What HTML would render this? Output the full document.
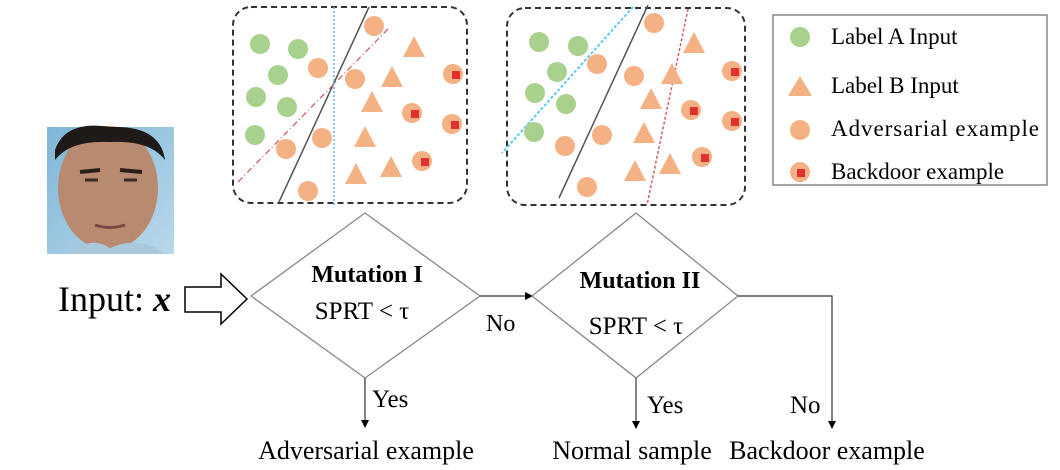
<!DOCTYPE html>
<html><head><meta charset="utf-8"><style>
body{margin:0;background:#fff;}
svg{display:block;font-family:"Liberation Serif",serif;}
</style></head><body>
<svg width="1060" height="470" viewBox="0 0 1060 470">
<defs>
<marker id="ah" markerWidth="8" markerHeight="8" refX="7" refY="4" orient="auto" markerUnits="userSpaceOnUse"><path d="M0,0 L8,4 L0,8 Z" fill="#000"/></marker>
<linearGradient id="bg" x1="0" y1="0" x2="1" y2="1"><stop offset="0" stop-color="#7fb6d8"/><stop offset="1" stop-color="#b9d8ea"/></linearGradient>
</defs>

<g>
<rect x="47" y="127" width="127" height="127" fill="url(#bg)"/>
<ellipse cx="108" cy="188" rx="50" ry="62" fill="#b88a70"/>
<path d="M55,150 Q65,120 110,127 Q160,125 165,160 Q150,140 110,142 Q70,140 55,160 Z" fill="#1e1a18"/>
<path d="M80,172 L100,170 M120,170 L142,172" stroke="#2a1e18" stroke-width="4"/>
<path d="M85,180 L98,180 M124,180 L137,180" stroke="#3a2a22" stroke-width="3"/>
<path d="M95,225 Q110,230 125,225" stroke="#7a4a40" stroke-width="3" fill="none"/>
<path d="M70,254 Q90,235 110,248 Q140,235 165,254 Z" fill="#a8c8dc"/>
</g>

<g id="panel1">
<rect x="233" y="7" width="234" height="196" rx="18" fill="none" stroke="#333" stroke-width="2" stroke-dasharray="6,4"/>
</g>
<g id="panel2">
<rect x="507" y="8" width="238" height="197" rx="18" fill="none" stroke="#333" stroke-width="2" stroke-dasharray="6,4"/>
</g>

<g font-size="23">
<rect x="773" y="15" width="274" height="170" fill="#fff" stroke="#666" stroke-width="1.2"/>
<g><circle cx="800" cy="37" r="10" fill="#a9d18e"/><text x="831" y="44">Label A Input</text></g>
<g><path d="M788,96 L800,76 L812,96 Z" fill="#f4b183"/><text x="831" y="93">Label B Input</text></g>
<g><circle cx="800" cy="130" r="10" fill="#f4b183"/><text x="831" y="136" textLength="208">Adversarial example</text></g>
<g><circle cx="800" cy="172" r="10" fill="#f4b183"/><rect x="797" y="169" width="8" height="8" fill="#e03030"/><text x="831" y="179">Backdoor example</text></g>
</g>

<g><text x="58" y="311" font-size="36">Input: <tspan font-weight="bold" font-style="italic">x</tspan></text></g>
<path d="M185,287 L221,287 L221,274 L247,299 L221,324 L221,312 L185,312 Z" fill="#fff" stroke="#000" stroke-width="1.5"/>

<g>
<path d="M251,296 L365,213 L480,296 L365,378 Z" fill="#fff" stroke="#888" stroke-width="1.3"/>
<text x="367" y="282" font-size="24" font-weight="bold" text-anchor="middle">Mutation I</text>
<text x="362" y="319" font-size="25" text-anchor="middle">SPRT &lt; τ</text>
</g>
<line x1="480" y1="296" x2="532" y2="296" stroke="#333" stroke-width="1.2" marker-end="url(#ah)"/>
<text x="486" y="331" font-size="24">No</text>
<line x1="365" y1="378" x2="365" y2="427" stroke="#333" stroke-width="1.2" marker-end="url(#ah)"/>
<text x="372" y="407" font-size="25">Yes</text>
<text x="366" y="459" font-size="26" text-anchor="middle">Adversarial example</text>

<g>
<path d="M532,296 L636,213 L738,296 L636,378 Z" fill="#fff" stroke="#888" stroke-width="1.3"/>
<text x="640" y="288" font-size="24" font-weight="bold" text-anchor="middle">Mutation II</text>
<text x="636" y="334" font-size="25" text-anchor="middle">SPRT &lt; τ</text>
</g>
<line x1="636" y1="378" x2="636" y2="428" stroke="#333" stroke-width="1.2" marker-end="url(#ah)"/>
<text x="647" y="413" font-size="25">Yes</text>
<path d="M738,296 L832,296 L832,428" fill="none" stroke="#333" stroke-width="1.2" marker-end="url(#ah)"/>
<text x="790" y="413" font-size="25">No</text>
<text x="632" y="459" font-size="26" text-anchor="middle">Normal sample</text>
<text x="827" y="459" font-size="26" text-anchor="middle">Backdoor example</text>
</svg>
<script>
const p1Green=[[260,44],[298,49],[278,75],[256,97],[287,107],[255,135]];
const p1Orange=[[374,26],[318,68],[355,79],[322,138],[286,149],[308,191]];
const p1Tri=[[414,47],[392,77],[372,102],[365,137],[356,174],[391,167]];
const p1Back=[[453,74],[412,113],[452,124],[422,161]];
const p2Green=[[539,42],[578,46],[557,72],[535,93],[566,104],[534,132]];
const p2Orange=[[654,23],[597,64],[634,76],[602,135],[565,146],[587,187]];
const p2Tri=[[694,43],[672,74],[651,99],[644,133],[635,171],[670,164]];
const p2Back=[[732,71],[691,110],[732,121],[702,157]];
const p1Lines=[[369,7,279,202,'#555','',1.5],[334,7,334,207,'#5bb8f0','2,2',1.5],[388,29,237,183,'#d06060','6,3,1,3',1.3]];
const p2Lines=[[648,5,559,198,'#555','',1.5],[633,7,502,153,'#5bc8f5','3,2',2],[688,9,647,205,'#d06060','3,2',1.5]];
const NS='http://www.w3.org/2000/svg';
function mk(g,tag,attrs){const e=document.createElementNS(NS,tag);for(const k in attrs)e.setAttribute(k,attrs[k]);g.appendChild(e);return e;}
function draw(id,green,orange,tri,back,lines){
  const g=document.getElementById(id);
  lines.forEach(l=>{const e=mk(g,'line',{x1:l[0],y1:l[1],x2:l[2],y2:l[3],stroke:l[4],'stroke-width':l[6]});if(l[5])e.setAttribute('stroke-dasharray',l[5]);
    
    });
  green.forEach(p=>{const e=mk(g,'circle',{cx:p[0],cy:p[1],r:10,fill:'#a9d18e'});
    
    });
  orange.forEach(p=>{const e=mk(g,'circle',{cx:p[0],cy:p[1],r:10,fill:'#f4b183'});
    
    });
  tri.forEach(p=>{const e=mk(g,'path',{d:`M${p[0]-11},${p[1]+10} L${p[0]},${p[1]-11} L${p[0]+11},${p[1]+10} Z`,fill:'#f4b183'});
    
    });
  back.forEach(p=>{const e=mk(g,'circle',{cx:p[0],cy:p[1],r:10,fill:'#f4b183'});
    
    
    mk(g,'rect',{x:p[0]-1,y:p[1]-3,width:8,height:8,fill:'#e03030'});});
}
draw('panel1',p1Green,p1Orange,p1Tri,p1Back,p1Lines);
draw('panel2',p2Green,p2Orange,p2Tri,p2Back,p2Lines);
</script>
</body></html>
